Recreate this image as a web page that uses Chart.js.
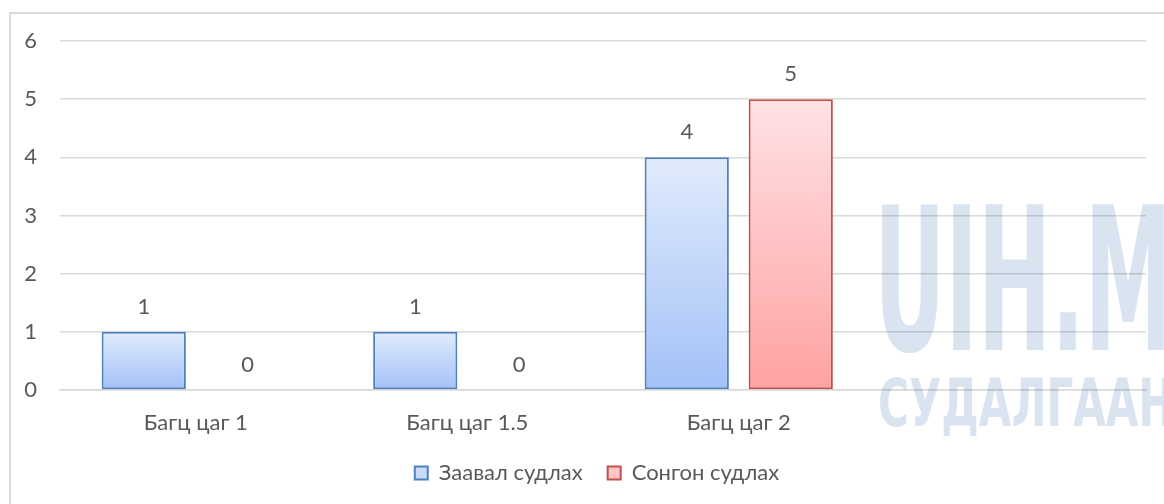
<!DOCTYPE html>
<html>
<head>
<meta charset="utf-8">
<script src="https://cdn.jsdelivr.net/npm/chart.js@4.4.1/dist/chart.umd.min.js"></script>
<style>
  html, body { margin: 0; padding: 0; background: #ffffff; }
  body { width: 1164px; height: 504px; position: relative; overflow: hidden; }
  #frame {
    position: absolute; left: 9px; top: 12px; width: 1180px; height: 520px;
    border: 2px solid #d9d9d9; box-sizing: border-box;
  }
  #chartBox { position: absolute; left: 0; top: 0; width: 1164px; height: 504px; }
  .wm {
    position: absolute; color: #dae4f0; font-family: "DejaVu Sans Condensed", "DejaVu Sans";
    font-weight: bold; white-space: nowrap; mix-blend-mode: multiply; transform-origin: 0 0;
    pointer-events: none;
  }
  #wm1 { left: 874px; top: 182px; font-size: 199px; line-height: 1; transform: scaleX(0.49); }
  #wm2 { left: 878px; top: 371px; font-size: 65px; line-height: 1; transform: scaleX(0.72); }
</style>
</head>
<body>
<div id="frame"></div>
<div id="chartBox"><canvas id="chart" width="1164" height="504"></canvas></div>
<div class="wm" id="wm1">UIH.MN</div>
<div class="wm" id="wm2">СУДАЛГААНЫ</div>
<script>
// Chart data
const categories = ['Багц цаг 1', 'Багц цаг 1.5', 'Багц цаг 2', ''];
const seriesNames = ['Заавал судлах', 'Сонгон судлах'];
const zaavalValues = [1, 1, 4, null];
const songonValues = [0, 0, 5, null];
const yTicks = [0, 1, 2, 3, 4, 5, 6];

const FONT = 'Lato, "Open Sans", sans-serif';
const FONT_SIZE = 22;
const TEXT_COLOR = '#595959';
const GRID_COLOR = '#d9d9d9';

// vertical gradient for each bar, from its top down to the base
function barGradient(topColor, bottomColor) {
    return function(context) {
        const chart = context.chart;
        const yScale = chart.scales.y;
        if (!yScale || context.raw === null || context.raw === undefined) return bottomColor;
        const top = yScale.getPixelForValue(context.raw);
        const base = yScale.getPixelForValue(0);
        if (!isFinite(top) || base - top < 1) return bottomColor;
        const g = chart.ctx.createLinearGradient(0, top, 0, base);
        g.addColorStop(0, topColor);
        g.addColorStop(1, bottomColor);
        return g;
    };
}

// value labels drawn above each bar
const valueLabels = {
    id: 'valueLabels',
    afterDatasetsDraw(chart) {
        const ctx = chart.ctx;
        ctx.save();
        ctx.font = FONT_SIZE + 'px ' + FONT;
        ctx.fillStyle = TEXT_COLOR;
        ctx.textAlign = 'center';
        ctx.textBaseline = 'middle';
        chart.data.datasets.forEach((ds, i) => {
            const meta = chart.getDatasetMeta(i);
            meta.data.forEach((bar, j) => {
                const v = ds.data[j];
                if (v === null || v === undefined) return;
                ctx.fillText(String(v), bar.x, bar.y - 25);
            });
        });
        ctx.restore();
    }
};

// the legend sits a little right of the canvas centre in the original
const legendShift = {
    id: 'legendShift',
    afterLayout(chart) {
        if (chart.legend) {
            chart.legend.left += 24;
            chart.legend.right += 24;
        }
    }
};

const legendFill = ['#c9daf8', '#ffc4c6'];
const borderColors = ['#4f81bd', '#c0504d'];

new Chart(document.getElementById('chart'), {
    type: 'bar',
    data: {
        labels: categories,
        datasets: [
            {
                label: seriesNames[0],
                data: zaavalValues,
                backgroundColor: barGradient('#e1ebfc', '#a3c1f7'),
                borderColor: borderColors[0],
                borderWidth: 2,
                borderSkipped: false,
                categoryPercentage: 0.766,
                barPercentage: 0.81
            },
            {
                label: seriesNames[1],
                data: songonValues,
                backgroundColor: barGradient('#ffe2e5', '#ffa2a2'),
                borderColor: borderColors[1],
                borderWidth: 2,
                borderSkipped: false,
                categoryPercentage: 0.766,
                barPercentage: 0.81
            }
        ]
    },
    options: {
        responsive: false,
        animation: false,
        layout: {
            padding: { left: 0, right: 18, top: 41, bottom: 10 }
        },
        plugins: {
            tooltip: { enabled: false },
            legend: {
                position: 'bottom',
                labels: {
                    color: TEXT_COLOR,
                    font: { family: FONT, size: FONT_SIZE },
                    boxWidth: 13,
                    boxHeight: 13,
                    padding: 25,
                    generateLabels(chart) {
                        return chart.data.datasets.map((ds, i) => ({
                            text: ds.label,
                            fillStyle: legendFill[i],
                            strokeStyle: borderColors[i],
                            lineWidth: 2,
                            fontColor: TEXT_COLOR,
                            hidden: false,
                            datasetIndex: i
                        }));
                    }
                }
            }
        },
        scales: {
            x: {
                grid: { display: false, drawTicks: false },
                border: { display: true, color: GRID_COLOR, width: 1.5 },
                ticks: {
                    color: TEXT_COLOR,
                    font: { family: FONT, size: FONT_SIZE },
                    padding: 20,
                    maxRotation: 0
                },
                afterFit(scale) { scale.height = 47; }
            },
            y: {
                min: 0,
                max: 6,
                afterBuildTicks(scale) {
                    scale.ticks = yTicks.map(v => ({ value: v }));
                },
                grid: { color: GRID_COLOR, lineWidth: 1.5, drawTicks: false },
                border: { display: false },
                ticks: {
                    color: TEXT_COLOR,
                    font: { family: FONT, size: FONT_SIZE },
                    padding: 23
                },
                afterFit(scale) { scale.width = 60; }
            }
        }
    },
    plugins: [valueLabels, legendShift]
});
</script>
</body>
</html>
